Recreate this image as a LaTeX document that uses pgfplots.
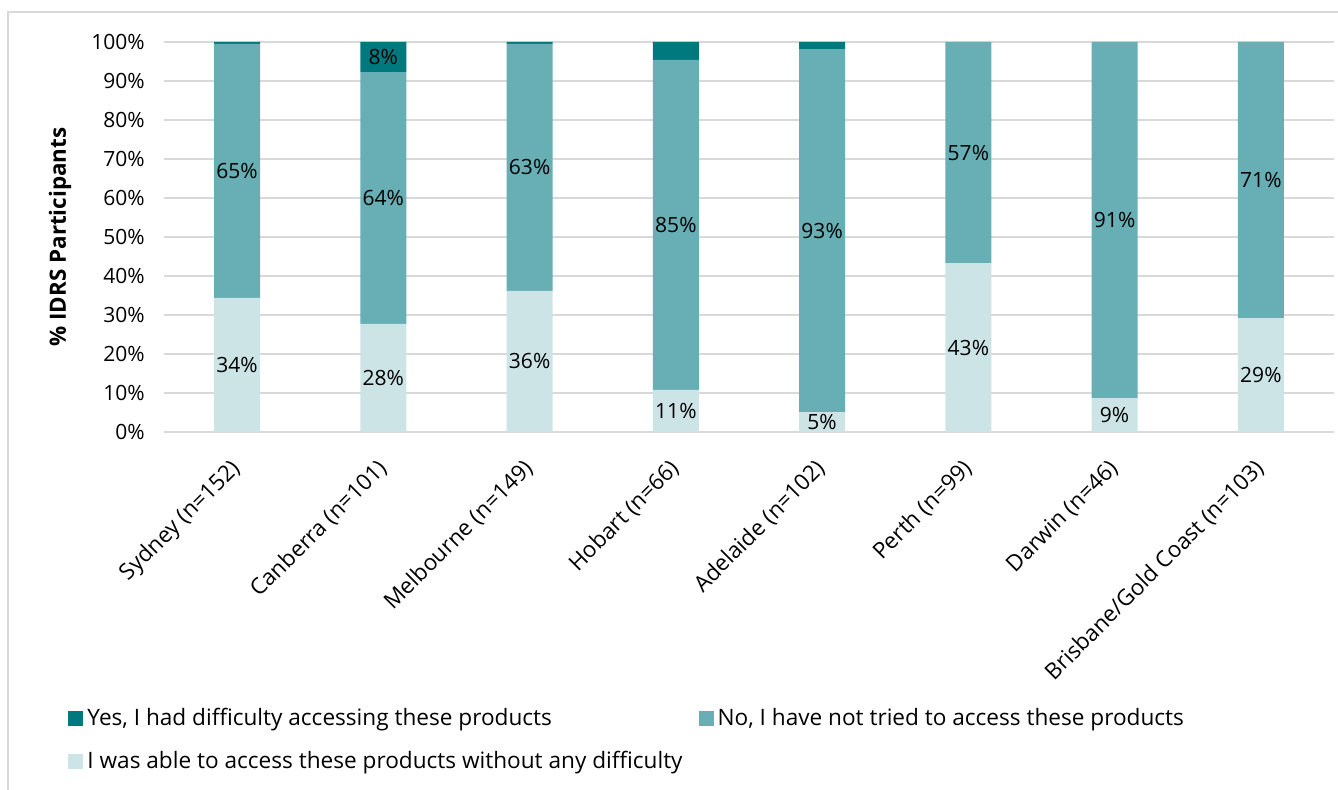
\documentclass[border=0pt]{standalone}
\usepackage{pgfplots}
\pgfplotsset{compat=1.18}
\usepackage{fontspec}
\setmainfont{Open Sans}

\definecolor{darkteal}{HTML}{00797E}
\definecolor{midteal}{HTML}{67AFB5}
\definecolor{lightteal}{HTML}{CCE4E6}
\definecolor{gridgray}{HTML}{D9D9D9}

\begin{document}
\fontsize{10.5}{12.6}\selectfont
\begin{tikzpicture}
  \useasboundingbox (0,0) rectangle (669pt,395pt);
  % chart frame (only left and top edges visible)
  \draw[gridgray, line width=0.75pt] (4pt,-2pt) -- (4pt,389pt) -- (672pt,389pt);
  \begin{axis}[
    at={(82pt,179pt)}, anchor=south west,
    scale only axis, width=585pt, height=195pt,
    ybar stacked, bar width=23pt,
    xmin=-0.5, xmax=7.5, ymin=0, ymax=100,
    xtick={0,...,7},
    xticklabels={{Sydney (n=152)},{Canberra (n=101)},{Melbourne (n=149)},{Hobart (n=66)},{Adelaide (n=102)},{Perth (n=99)},{Darwin (n=46)},{Brisbane/Gold Coast (n=103)}},
    ytick={0,10,...,100},
    yticklabel={\pgfmathprintnumber{\tick}\%},
    /pgf/number format/assume math mode=true,
    ymajorgrids, major grid style={gridgray, line width=0.75pt},
    axis line style={draw=none}, tick style={draw=none},
    xticklabel style={font=\fontsize{11.2}{13}\selectfont, xshift=2.5pt, yshift=-14pt, rotate=45, anchor=east},
    yticklabel style={xshift=-6pt},
    ylabel={\bfseries\% IDRS Participants},
    ylabel style={font=\fontsize{11.2}{13}\selectfont, at={(axis description cs:-0.0889,0.5)}, anchor=center},
    legend columns=2, reverse legend, legend cell align=left,
    legend style={at={(axis description cs:-0.082,-0.697)}, anchor=north west,
      draw=none, fill=none, inner sep=0pt, row sep=7.5pt,
      font=\fontsize{11.3}{13}\selectfont,
      /tikz/every even column/.append style={column sep=6pt}},
    legend image code/.code={\fill[#1] (0pt,-3.75pt) rectangle (7.5pt,3.75pt);},
    point meta=explicit symbolic,
    nodes near coords,
    every node near coord/.append style={anchor=center, text=black},
  ]
    \addplot[fill=lightteal, draw=none] table[x=x, y=y, meta=lbl] {
      x y lbl
      0 34.4 34\%
      1 27.7 28\%
      2 36.2 36\%
      3 10.8 11\%
      4 5.1 5\%
      5 43.3 43\%
      6 8.7 9\%
      7 29.2 29\%
    };
    \addplot[fill=midteal, draw=none] table[x=x, y=y, meta=lbl] {
      x y lbl
      0 65.1 65\%
      1 64.6 64\%
      2 63.3 63\%
      3 84.6 85\%
      4 93.1 93\%
      5 56.7 57\%
      6 91.3 91\%
      7 70.8 71\%
    };
    \addplot[fill=darkteal, draw=none] table[x=x, y=y, meta=lbl] {
      x y lbl
      0 0.5 {}
      1 7.7 8\%
      2 0.5 {}
      3 4.6 {}
      4 1.8 {}
      5 0 {}
      6 0 {}
      7 0 {}
    };
    \legend{I was able to access these products without any difficulty,
      {No, I have not tried to access these products},
      {Yes, I had difficulty accessing these products}}
  \end{axis}
\end{tikzpicture}
\end{document}
